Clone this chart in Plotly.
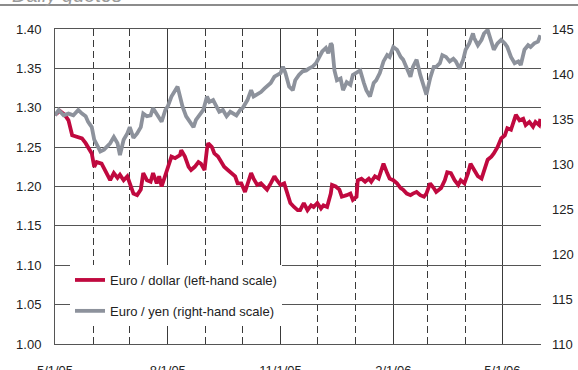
import plotly.graph_objects as go

# Euro / dollar daily quotes (left-hand scale)
usd_dates = [
    "2005-05-01", "2005-05-05", "2005-05-09", "2005-05-12", "2005-05-15", "2005-05-19", "2005-05-23", "2005-05-26", "2005-05-28", "2005-05-31",
    "2005-06-02", "2005-06-04", "2005-06-08", "2005-06-11", "2005-06-15", "2005-06-18", "2005-06-21", "2005-06-23", "2005-06-26", "2005-06-29",
    "2005-07-01", "2005-07-04", "2005-07-07", "2005-07-10", "2005-07-12", "2005-07-15", "2005-07-18", "2005-07-20", "2005-07-23", "2005-07-25", "2005-07-27", "2005-07-31",
    "2005-08-04", "2005-08-07", "2005-08-11", "2005-08-12", "2005-08-15", "2005-08-18", "2005-08-20", "2005-08-23", "2005-08-26", "2005-08-28", "2005-08-31",
    "2005-09-02", "2005-09-03", "2005-09-06", "2005-09-08", "2005-09-11", "2005-09-14", "2005-09-16", "2005-09-19", "2005-09-22", "2005-09-25", "2005-09-27", "2005-09-30",
    "2005-10-03", "2005-10-05", "2005-10-08", "2005-10-10", "2005-10-13", "2005-10-16", "2005-10-19", "2005-10-21", "2005-10-24", "2005-10-27", "2005-10-29",
    "2005-11-01", "2005-11-04", "2005-11-07", "2005-11-09", "2005-11-12", "2005-11-15", "2005-11-17", "2005-11-20", "2005-11-23", "2005-11-26", "2005-11-28",
    "2005-12-01", "2005-12-04", "2005-12-06", "2005-12-09", "2005-12-12", "2005-12-13", "2005-12-16", "2005-12-19", "2005-12-21", "2005-12-25", "2005-12-28", "2005-12-30",
    "2006-01-02", "2006-01-03", "2006-01-06", "2006-01-09", "2006-01-12", "2006-01-14", "2006-01-17", "2006-01-20", "2006-01-23", "2006-01-24", "2006-01-27", "2006-01-29",
    "2006-02-01", "2006-02-04", "2006-02-07", "2006-02-09", "2006-02-12", "2006-02-15", "2006-02-17", "2006-02-20", "2006-02-23", "2006-02-26", "2006-02-28",
    "2006-03-03", "2006-03-06", "2006-03-08", "2006-03-12", "2006-03-15", "2006-03-17", "2006-03-20", "2006-03-23", "2006-03-26", "2006-03-28", "2006-03-31",
    "2006-04-03", "2006-04-05", "2006-04-08", "2006-04-11", "2006-04-14", "2006-04-16", "2006-04-19", "2006-04-22", "2006-04-24", "2006-04-27", "2006-04-30",
    "2006-05-03", "2006-05-05", "2006-05-08", "2006-05-11", "2006-05-12", "2006-05-15", "2006-05-18", "2006-05-20", "2006-05-23", "2006-05-26", "2006-05-28", "2006-05-31", "2006-06-01",
]
usd_rate = [
    1.291, 1.296, 1.291, 1.284, 1.265, 1.263, 1.261, 1.255, 1.250, 1.242,
    1.225, 1.231, 1.229, 1.221, 1.208, 1.217, 1.211, 1.215, 1.208, 1.213,
    1.204, 1.191, 1.189, 1.196, 1.217, 1.208, 1.206, 1.217, 1.204, 1.213, 1.200, 1.221,
    1.238, 1.236, 1.240, 1.246, 1.238, 1.225, 1.221, 1.225, 1.231, 1.229, 1.221,
    1.248, 1.255, 1.250, 1.242, 1.238, 1.229, 1.225, 1.221, 1.217, 1.213, 1.204, 1.204,
    1.193, 1.202, 1.217, 1.210, 1.202, 1.204, 1.200, 1.196, 1.204, 1.213, 1.208,
    1.202, 1.204, 1.187, 1.179, 1.174, 1.170, 1.170, 1.179, 1.170, 1.176, 1.174,
    1.179, 1.172, 1.176, 1.174, 1.191, 1.202, 1.200, 1.196, 1.187, 1.189, 1.191, 1.183,
    1.187, 1.208, 1.210, 1.206, 1.210, 1.206, 1.213, 1.210, 1.225, 1.229, 1.217, 1.210,
    1.208, 1.204, 1.198, 1.196, 1.191, 1.189, 1.191, 1.193, 1.189, 1.187, 1.191,
    1.204, 1.198, 1.193, 1.198, 1.208, 1.218, 1.217, 1.208, 1.202, 1.208, 1.204,
    1.217, 1.229, 1.221, 1.213, 1.210, 1.221, 1.234, 1.238, 1.242, 1.250, 1.261,
    1.265, 1.274, 1.272, 1.284, 1.291, 1.284, 1.286, 1.278, 1.282, 1.276, 1.282, 1.278, 1.286,
]

# Euro / yen daily quotes (right-hand scale)
jpy_dates = [
    "2005-05-01", "2005-05-04", "2005-05-08", "2005-05-12", "2005-05-16", "2005-05-20", "2005-05-23", "2005-05-26", "2005-05-28", "2005-05-31",
    "2005-06-02", "2005-06-04", "2005-06-07", "2005-06-10", "2005-06-12", "2005-06-15", "2005-06-18", "2005-06-21", "2005-06-23", "2005-06-26", "2005-06-29",
    "2005-07-01", "2005-07-04", "2005-07-07", "2005-07-10", "2005-07-12", "2005-07-15", "2005-07-18", "2005-07-20", "2005-07-23", "2005-07-27", "2005-07-30",
    "2005-08-01", "2005-08-04", "2005-08-06", "2005-08-09", "2005-08-11", "2005-08-13", "2005-08-16", "2005-08-19", "2005-08-22", "2005-08-24", "2005-08-27", "2005-08-30",
    "2005-09-02", "2005-09-04", "2005-09-07", "2005-09-10", "2005-09-12", "2005-09-15", "2005-09-18", "2005-09-21", "2005-09-23", "2005-09-26", "2005-09-29",
    "2005-10-01", "2005-10-05", "2005-10-08", "2005-10-10", "2005-10-13", "2005-10-16", "2005-10-19", "2005-10-21", "2005-10-24", "2005-10-27", "2005-10-29",
    "2005-11-01", "2005-11-03", "2005-11-05", "2005-11-08", "2005-11-11", "2005-11-13", "2005-11-16", "2005-11-19", "2005-11-22", "2005-11-24", "2005-11-27", "2005-11-30",
    "2005-12-02", "2005-12-05", "2005-12-08", "2005-12-10", "2005-12-12", "2005-12-13", "2005-12-15", "2005-12-17", "2005-12-20", "2005-12-22", "2005-12-25", "2005-12-28", "2005-12-30",
    "2006-01-02", "2006-01-05", "2006-01-08", "2006-01-10", "2006-01-13", "2006-01-16", "2006-01-18", "2006-01-21", "2006-01-24", "2006-01-27", "2006-01-29",
    "2006-02-01", "2006-02-04", "2006-02-07", "2006-02-09", "2006-02-12", "2006-02-15", "2006-02-17", "2006-02-20", "2006-02-23", "2006-02-26", "2006-02-28",
    "2006-03-03", "2006-03-06", "2006-03-08", "2006-03-11", "2006-03-13", "2006-03-16", "2006-03-19", "2006-03-22", "2006-03-24", "2006-03-27", "2006-03-30",
    "2006-04-01", "2006-04-04", "2006-04-07", "2006-04-08", "2006-04-11", "2006-04-14", "2006-04-16", "2006-04-19", "2006-04-22", "2006-04-24", "2006-04-27", "2006-04-30",
    "2006-05-03", "2006-05-05", "2006-05-08", "2006-05-11", "2006-05-14", "2006-05-16", "2006-05-19", "2006-05-22", "2006-05-24", "2006-05-27", "2006-05-30", "2006-06-01",
]
jpy_rate = [
    135.4, 136.0, 135.4, 135.6, 135.4, 136.0, 135.6, 135.3, 134.7, 134.1,
    132.7, 132.1, 131.4, 131.6, 131.9, 132.3, 133.0, 132.3, 131.0, 132.7, 133.4,
    134.1, 132.9, 133.4, 134.1, 135.6, 135.3, 135.4, 136.2, 135.6, 134.7, 136.0,
    136.4, 137.5, 138.0, 138.6, 137.5, 136.4, 135.3, 134.7, 134.1, 134.9, 135.4, 136.0,
    137.5, 136.9, 137.1, 136.4, 135.8, 136.0, 135.3, 135.8, 135.6, 135.4, 136.0,
    136.2, 137.1, 138.2, 137.5, 137.7, 138.0, 138.4, 138.6, 139.0, 139.7, 139.9,
    140.1, 140.8, 140.1, 138.6, 138.2, 139.3, 139.9, 140.3, 140.4, 140.6, 140.8, 141.2,
    141.7, 142.5, 142.9, 142.3, 143.4, 143.2, 140.4, 139.3, 139.5, 138.2, 139.1, 138.8, 139.9,
    140.1, 140.4, 139.0, 138.2, 137.5, 139.0, 139.3, 140.1, 141.4, 142.1, 141.9,
    143.0, 142.7, 141.9, 141.6, 140.6, 139.7, 140.8, 141.6, 139.9, 138.6, 137.7,
    139.5, 140.8, 140.8, 141.2, 142.1, 141.9, 141.4, 141.7, 141.4, 140.6, 141.6,
    142.7, 143.4, 144.5, 144.0, 143.2, 143.8, 144.5, 144.9, 143.4, 142.7, 143.4, 143.8,
    143.4, 143.0, 141.9, 141.2, 141.4, 141.0, 142.7, 143.2, 143.0, 143.4, 143.6, 144.3,
]

assert len(usd_dates) == len(usd_rate)
assert len(jpy_dates) == len(jpy_rate)

RED = "#C0093F"
GREY = "#8D929C"
GRID = "#3a3a3a"
FONT = "Liberation Sans Narrow, Liberation Sans, Arial, sans-serif"

fig = go.Figure()

fig.add_trace(go.Scatter(
    x=jpy_dates, y=jpy_rate, yaxis="y2", mode="lines",
    name="Euro / yen (right-hand scale)",
    line=dict(color=GREY, width=3.8), legendrank=2, legendgroup="jpy",
))
fig.add_trace(go.Scatter(
    x=usd_dates, y=usd_rate, mode="lines",
    name="Euro / dollar (left-hand scale)",
    line=dict(color=RED, width=3.8), legendrank=1, legendgroup="usd",
))

W, H = 578, 370
L, R, T, B = 55, 37, 29, 26
pw, ph = W - L - R, H - T - B

fig.update_layout(
    width=W, height=H,
    margin=dict(l=L, r=R, t=T, b=B, autoexpand=False),
    paper_bgcolor="white", plot_bgcolor="white",
    font=dict(family=FONT, size=13, color="#222"),
    showlegend=True,
    legend=dict(
        x=(70 - L) / pw, y=(H - B - 265) / ph, xanchor="left", yanchor="top",
        bgcolor="white", borderwidth=0, font=dict(size=13, color="#222"),
        tracegroupgap=11, itemwidth=30,
    ),
    xaxis=dict(
        type="date", range=["2005-05-01", "2006-06-01 12:00"],
        tick0="2005-05-01", dtick="M3", tickformat="%-m/%-d/%y",
        showgrid=True, gridcolor=GRID, gridwidth=1,
        minor=dict(tick0="2005-05-01", dtick="M1", showgrid=True,
                   gridcolor=GRID, gridwidth=1, griddash="7px,4px"),
        showline=True, linecolor="#555", linewidth=1, mirror=True,
        ticks="", ticklabelstandoff=14, zeroline=False,
    ),
    yaxis=dict(
        range=[1.0, 1.4], tick0=1.0, dtick=0.05, tickformat=".2f",
        showgrid=True, gridcolor="#555", gridwidth=1,
        showline=True, linecolor="#555", linewidth=1,
        ticks="", ticklabelstandoff=10, zeroline=False,
    ),
    yaxis2=dict(
        range=[110, 145], tick0=110, dtick=5, overlaying="y", side="right",
        showgrid=False, showline=False, ticks="", ticklabelstandoff=10,
        zeroline=False,
    ),
    annotations=[dict(
        text="Daily quotes", xref="paper", yref="paper",
        x=(10 - L) / pw, y=1 + (T - 8) / ph, xanchor="left", yanchor="bottom",
        showarrow=False, font=dict(family="Liberation Sans, Arial", size=20,
                                   color="#9a9a9a", style="italic"),
    )],
    shapes=[dict(
        type="line", xref="paper", yref="paper",
        x0=-L / pw, x1=(W - L) / pw, y0=1 + (T - 5) / ph, y1=1 + (T - 5) / ph,
        line=dict(color="#8c8c8c", width=2),
    )],
)

fig.write_html("out.html")
